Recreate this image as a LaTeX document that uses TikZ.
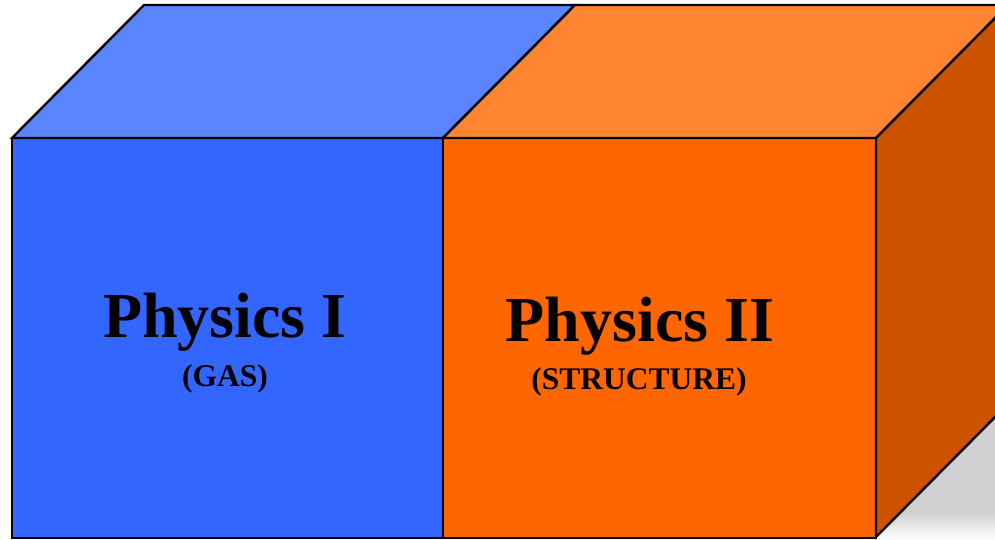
\documentclass[tikz,border=0pt]{standalone}
\usepackage{fontspec}
\setmainfont{Liberation Serif}
\usepackage{xcolor}
\usepackage{tikz}
\usetikzlibrary{positioning}
\definecolor{blufront}{RGB}{51,102,255}
\definecolor{blutop}{RGB}{91,133,255}
\definecolor{orgfront}{RGB}{255,102,0}
\definecolor{orgtop}{RGB}{255,133,51}
\definecolor{orgside}{RGB}{204,82,0}
\definecolor{shadowgray}{RGB}{208,208,208}
\tikzset{
  face/.style={draw=black, line width=2.4pt, line join=miter},
  bigtitle/.style={anchor=base, font=\fontsize{64}{64}\selectfont\bfseries},
  subtitle/.style={anchor=base, font=\fontsize{31.5}{31.5}\selectfont\bfseries}
}

\begin{document}
\begin{tikzpicture}[x=1pt, y=-1pt]
  \useasboundingbox (0,0) rectangle (995,539);
  \clip (0,0) rectangle (995,539);

  % Shadow
  \fill[shadowgray] (876,539) -- (1008,404) -- (1008,539) -- cycle;
  \shade[top color=shadowgray, bottom color=white] (876,512) rectangle (1008,540);
  \fill[white] (876,539) -- (1008,404) -- (876,404) -- cycle;

  % Physics I
  \filldraw[face, fill=blufront] (12,138) rectangle (443,538);
  \filldraw[face, fill=blutop] (12,138) -- (144,5) -- (575,5) -- (443,138) -- cycle;

  % Physics II
  \filldraw[face, fill=orgfront] (443,138) rectangle (876,538);
  \filldraw[face, fill=orgtop] (443,138) -- (575,5) -- (1008,5) -- (876,138) -- cycle;
  \filldraw[face, fill=orgside] (876,138) -- (1008,5) -- (1008,404) -- (876,537) -- cycle;

  % Labels
  \node[bigtitle] (gas) at (225,337) {Physics I};
  \node[subtitle] (gassub) at (225,386) {(GAS)};
  \node[bigtitle] (str) at (640,341) {Physics II};
  \node[subtitle] (strsub) at (639,389) {(STRUCTURE)};
\end{tikzpicture}
\end{document}
